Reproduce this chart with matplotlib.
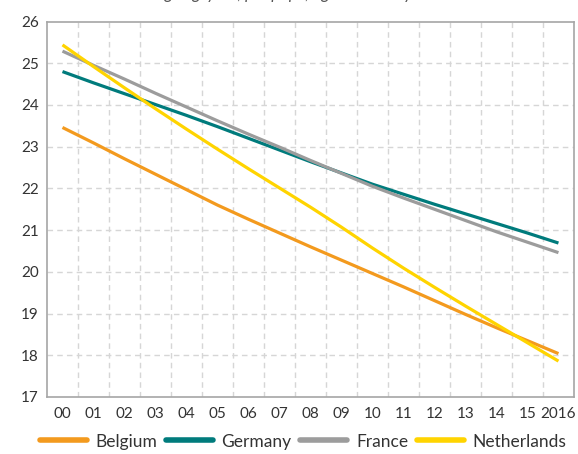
import numpy as np
import matplotlib as mpl
mpl.use("Agg")
import matplotlib.pyplot as plt

plt.rcParams['font.family'] = ['Lato', 'DejaVu Sans']

years = ["00", "01", "02", "03", "04", "05", "06", "07", "08", "09",
         "10", "11", "12", "13", "14", "15", "2016"]

belgium = [23.46, 23.09, 22.71, 22.34, 21.97, 21.60, 21.26, 20.93, 20.60,
           20.28, 19.96, 19.64, 19.31, 18.98, 18.66, 18.35, 18.04]
germany = [24.80, 24.53, 24.27, 24.01, 23.75, 23.48, 23.20, 22.92, 22.64,
           22.37, 22.10, 21.86, 21.62, 21.39, 21.16, 20.93, 20.69]
france = [25.29, 24.95, 24.62, 24.28, 23.95, 23.62, 23.30, 22.99, 22.67,
          22.36, 22.05, 21.77, 21.50, 21.23, 20.96, 20.71, 20.46]
netherlands = [25.44, 24.92, 24.41, 23.91, 23.42, 22.94, 22.47, 22.01, 21.55,
               21.07, 20.57, 20.09, 19.63, 19.18, 18.74, 18.30, 17.86]

series = [("Belgium", belgium, "#F39A1E"),
          ("Germany", germany, "#007B7C"),
          ("France", france, "#9C9C9C"),
          ("Netherlands", netherlands, "#FFD400")]

fig = plt.figure(figsize=(5.78, 4.54), dpi=100)
ax = fig.add_axes([0.0813, 0.1256, 0.9117, 0.827])

x = np.arange(len(years))
for name, vals, col in series:
    ax.plot(x, vals, color=col, lw=2.3, label=name, solid_capstyle='butt')

ax.set_xlim(-0.5, len(years) - 0.5)
ax.set_ylim(17, 26)
ax.set_yticks(np.arange(17, 27))
ax.set_xticks(x)
ax.set_xticklabels(years)

ax.grid(False)
for v in np.arange(18, 26):
    ax.axhline(v, color="#D6D6D6", lw=1, dashes=(4, 3), zorder=0)
for v in np.arange(0.5, len(years) - 1, 1):
    ax.axvline(v, color="#D6D6D6", lw=1, dashes=(4, 3), zorder=0)

for s in ax.spines.values():
    s.set_color("#A6A6A6")
    s.set_linewidth(1.2)

ax.tick_params(which='both', length=0, labelsize=11, colors="#333333", pad=7)
ax.tick_params(axis='y', pad=6)

# subtitle sits mostly above the canvas, as in the source image
fig.text(0.49, 1.013, "Average kg/year, per pupil, aged 6 to 11 years", ha='center',
         va='center', fontsize=12, style='italic', color="#555555")

leg = ax.legend(loc='lower left', bbox_to_anchor=(0.066, 0.006), bbox_transform=fig.transFigure,
                ncol=4, frameon=False, fontsize=12.5, handlelength=2.7, handletextpad=0.5,
                columnspacing=0.5, labelcolor="#333333", borderpad=0.1, borderaxespad=0)
for h in leg.get_lines():
    h.set_linewidth(4)
    h.set_solid_capstyle('round')

fig.savefig("out.png", dpi=100)
